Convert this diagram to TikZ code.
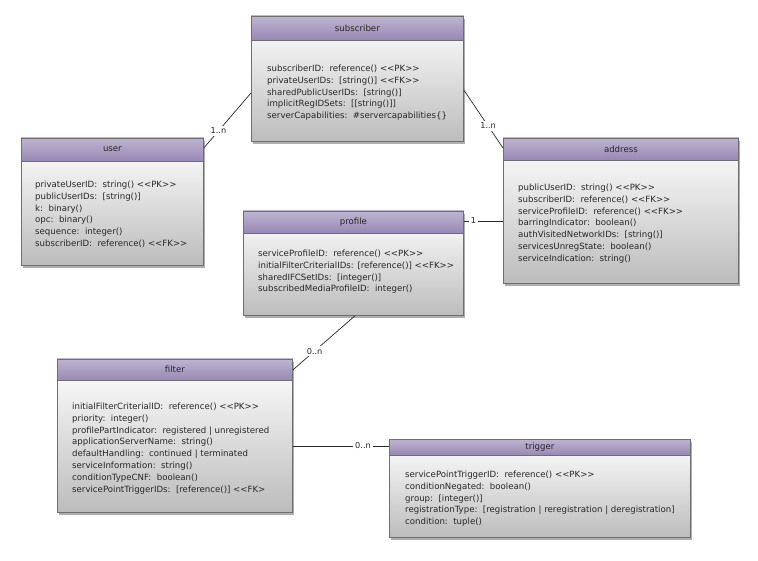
\documentclass[tikz,border=0pt]{standalone}
\usepackage{fontspec}
\setmainfont{DejaVu Sans}[Ligatures=TeXOff]
\usetikzlibrary{shadows,calc}
\definecolor{hdrtop}{RGB}{190,181,209}
\definecolor{hdrbot}{RGB}{152,136,180}
\definecolor{bodybot}{RGB}{188,188,188}
\definecolor{edge}{RGB}{110,110,110}
\definecolor{conn}{RGB}{40,40,40}
\tikzset{
  classbody/.style={draw=edge, line width=0.8pt, rectangle, inner sep=0pt,
    top color=white, bottom color=bodybot,
    drop shadow={shadow xshift=2pt, shadow yshift=-3pt, opacity=0.45, fill=black!70}},
  hdrfill/.style={top color=hdrtop, bottom color=hdrbot},
  border/.style={draw=edge, line width=0.8pt},
  titletext/.style={font=\fontsize{8.6}{11}\selectfont, inner sep=0pt, text=black!85},
  bodytext/.style={font=\fontsize{8.6}{11.9}\selectfont, inner sep=0pt, align=left, anchor=north west, text=black!85},
  connector/.style={draw=conn, line width=0.7pt},
  lbl/.style={font=\fontsize{8.2}{10}\selectfont, fill=white, inner sep=2pt, text=black!85}
}
% #1 name, #2 x, #3 y, #4 width, #5 height, #6 header height, #7 title, #8 text x, #9 text y
\newcommand\umlclass[9]{%
  \node[classbody, minimum width=#4pt, minimum height=#5pt, anchor=north west] (#1) at (#2,#3) {};
  \shade[hdrfill] (#1.north west) rectangle ([yshift=-#6pt]#1.north east);
  \draw[border] (#1.north west) rectangle (#1.south east);
  \draw[border] ([yshift=-#6pt]#1.north west) -- ([yshift=-#6pt]#1.north east);
  \node[titletext] (#1-title) at ([yshift=-#6pt/2]#1.north) {#7};
  \coordinate (#1-txt) at (#8,#9);
}
\begin{document}
\begin{tikzpicture}[x=1pt,y=-1pt]
\useasboundingbox[fill=white] (0,0) rectangle (758,561);

\umlclass{sub}{251}{16}{212}{125}{24}{subscriber}{267}{64.5}
\node[bodytext] (sub-body) at (sub-txt) {subscriberID:~~reference() <<PK>>\\privateUserIDs:~~[string()] <<FK>>\\sharedPublicUserIDs:~~[string()]\\implicitRegIDSets:~~[[string()]]\\serverCapabilities:~~\#servercapabilities\{\}};

\umlclass{user}{21}{138}{182}{127}{23}{user}{35}{180.5}
\node[bodytext] (user-body) at (user-txt) {privateUserID:~~string() <<PK>>\\publicUserIDs:~~[string()]\\k:~~binary()\\opc:~~binary()\\sequence:~~integer()\\subscriberID:~~reference() <<FK>>};

\umlclass{addr}{503}{138}{235}{145}{22}{address}{518}{183.5}
\node[bodytext] (addr-body) at (addr-txt) {publicUserID:~~string() <<PK>>\\subscriberID:~~reference() <<FK>>\\serviceProfileID:~~reference() <<FK>>\\barringIndicator:~~boolean()\\authVisitedNetworkIDs:~~[string()]\\servicesUnregState:~~boolean()\\serviceIndication:~~string()};

\umlclass{prof}{243}{211}{220}{104}{22}{profile}{258}{249.5}
\node[bodytext] (prof-body) at (prof-txt) {serviceProfileID:~~reference() <<PK>>\\initialFilterCriterialIDs: [reference()] <<FK>>\\sharedIFCSetIDs:~~[integer()]\\subscribedMediaProfileID:~~integer()};

\umlclass{filt}{57}{359}{235}{153}{21}{filter}{72}{402.5}
\node[bodytext] (filt-body) at (filt-txt) {initialFilterCriterialID:~~reference() <<PK>>\\priority:~~integer()\\profilePartIndicator:~~registered | unregistered\\applicationServerName:~~string()\\defaultHandling:~~continued | terminated\\serviceInformation:~~string()\\conditionTypeCNF:~~boolean()\\servicePointTriggerIDs:~~[reference()] <<FK>};

\umlclass{trig}{389}{439}{301}{98}{16}{trigger}{405}{470.5}
\node[bodytext] (trig-body) at (trig-txt) {servicePointTriggerID:~~reference() <<PK>>\\conditionNegated:~~boolean()\\group:~~[integer()]\\registrationType:~~[registration | reregistration | deregistration]\\condition:~~tuple()};

% connectors
\draw[connector] ([yshift=-10pt]user.north east) -- node[lbl, pos=0.31] {1..n} ([yshift=-77pt]sub.north west);
\draw[connector] ([yshift=-74pt]sub.north east) -- node[lbl, pos=0.62] {1..n} ([yshift=-10pt]addr.north west);
\draw[connector] ([yshift=-10pt]prof.north east) -- node[lbl, pos=0.25] {1} ([yshift=-83pt]addr.north west);
\draw[connector] ([xshift=112pt]prof.south west) -- node[lbl, pos=0.65] {0..n} ([yshift=-11pt]filt.north east);
\draw[connector] ([yshift=-87pt]filt.north east) -- node[lbl, pos=0.73] {0..n} ([yshift=-7pt]trig.north west);
\end{tikzpicture}
\end{document}
